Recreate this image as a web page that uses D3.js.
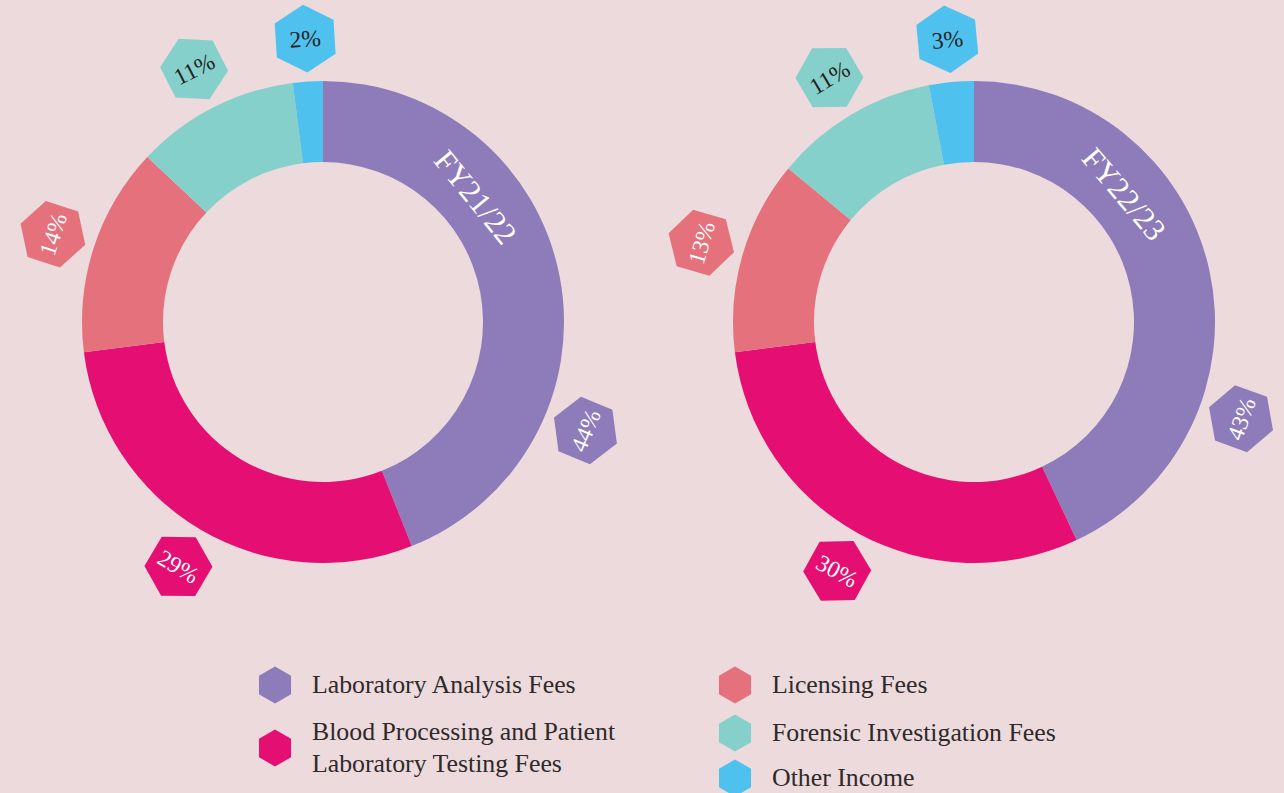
<!DOCTYPE html>
<html>
<head>
<meta charset="utf-8">
<script src="https://cdn.jsdelivr.net/npm/d3@7"></script>
<style>
  html, body { margin: 0; padding: 0; background: #ecdadc; }
  #chart { width: 1284px; height: 793px; }
  text { font-family: "Liberation Serif", "DejaVu Serif", serif; }
</style>
</head>
<body>
<div id="chart"></div>
<script>
const categories = [
  "Laboratory Analysis Fees",
  "Blood Processing and Patient Laboratory Testing Fees",
  "Licensing Fees",
  "Forensic Investigation Fees",
  "Other Income",
];
const legendLines = [
  ["Laboratory Analysis Fees"],
  ["Blood Processing and Patient", "Laboratory Testing Fees"],
  ["Licensing Fees"],
  ["Forensic Investigation Fees"],
  ["Other Income"],
];
const years = ["FY21/22", "FY22/23"];
const fy2122 = [44, 29, 14, 11, 2];
const fy2223 = [43, 30, 13, 11, 3];
const colors = ["#8e7bb9", "#e50f73", "#e5717c", "#85d0cb", "#4fc1ef"];
const labelInk = ["#ffffff", "#ffffff", "#ffffff", "#222222", "#222222"];

const width = 1284;
const height = 793;
const outerR = 241;
const innerR = 160;
const hexR = 34;
const hexDist = 284;

const svg = d3
  .select("#chart")
  .append("svg")
  .attr("width", width)
  .attr("height", height);

const pie = d3.pie().sort(null).value((d) => d);
const arc = d3.arc().innerRadius(innerR).outerRadius(outerR);

// pointy-top hexagon path
function hexPath(r) {
  const pts = d3.range(6).map((k) => {
    const a = (Math.PI / 3) * k - Math.PI / 2;
    return [r * Math.cos(a), r * Math.sin(a)];
  });
  return d3.line()(pts) + "Z";
}

// the first slice carries the year label, so its badge sits further along
function badgeAngle(d, i) {
  const f = i === 0 ? 0.71 : 0.5;
  return d.startAngle + f * (d.endAngle - d.startAngle);
}

function readable(deg) {
  return deg > 90 && deg < 270 ? deg - 180 : deg;
}

const centers = [
  [323, 322],
  [974, 322],
];

[fy2122, fy2223].forEach((values, c) => {
  const g = svg
    .append("g")
    .attr("class", "donut")
    .attr("transform", `translate(${centers[c][0]},${centers[c][1]})`);

  const arcs = pie(values);

  g.selectAll(".slice")
    .data(arcs)
    .join("path")
    .attr("class", "slice")
    .attr("d", arc)
    .attr("fill", (d, i) => colors[i]);

  // year label inside the first slice
  const first = arcs[0];
  const ya = first.startAngle + 0.32 * (first.endAngle - first.startAngle);
  const yr = (innerR + outerR) / 2 - 3;
  g.append("text")
    .attr(
      "transform",
      `translate(${yr * Math.sin(ya)},${-yr * Math.cos(ya)}) rotate(${(ya * 180) / Math.PI})`
    )
    .attr("text-anchor", "middle")
    .attr("dy", "0.35em")
    .attr("fill", "#ffffff")
    .attr("font-size", 31)
    .text(years[c]);

  // hexagon badges
  const badge = g
    .selectAll(".badge")
    .data(arcs)
    .join("g")
    .attr("class", "badge")
    .attr("transform", (d, i) => {
      const a = badgeAngle(d, i);
      const deg = readable((a * 180) / Math.PI);
      return `translate(${hexDist * Math.sin(a)},${-hexDist * Math.cos(a)}) rotate(${deg})`;
    });

  badge
    .append("path")
    .attr("d", hexPath(hexR))
    .attr("fill", (d, i) => colors[i]);

  badge
    .append("text")
    .attr("text-anchor", "middle")
    .attr("dy", "0.35em")
    .attr("font-size", 23.5)
    .attr("fill", (d, i) => labelInk[i])
    .text((d) => `${d.data}%`);
});

// legend
const legendPos = [
  { x: 275, y: 685 },
  { x: 275, y: 748 },
  { x: 735, y: 685 },
  { x: 735, y: 733 },
  { x: 735, y: 778 },
];

const legend = svg
  .append("g")
  .attr("class", "legend")
  .selectAll("g")
  .data(categories)
  .join("g")
  .attr("transform", (d, i) => `translate(${legendPos[i].x},${legendPos[i].y})`);

legend
  .append("path")
  .attr("d", hexPath(18.5))
  .attr("fill", (d, i) => colors[i]);

legend
  .append("text")
  .attr("x", 37)
  .attr("font-size", 25.8)
  .attr("fill", "#2e2a2b")
  .each(function (d, i) {
    const lines = legendLines[i];
    const start = -((lines.length - 1) * 32) / 2;
    d3.select(this)
      .selectAll("tspan")
      .data(lines)
      .join("tspan")
      .attr("x", 37)
      .attr("y", (l, k) => start + k * 32)
      .attr("dy", "0.3em")
      .text((l) => l);
  });
</script>
</body>
</html>
